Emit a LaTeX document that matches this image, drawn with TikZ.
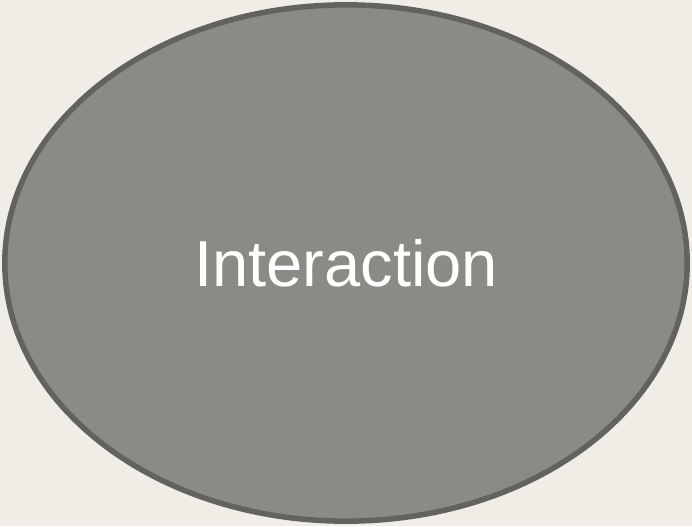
\documentclass[tikz,border=0pt]{standalone}
\usepackage{fontspec}
\setmainfont{Liberation Sans}
\usetikzlibrary{shapes.geometric}

\definecolor{paper}{HTML}{EFEDE6}
\definecolor{blobfill}{HTML}{8A8B84}
\definecolor{blobline}{HTML}{62635D}

\tikzset{
    blob/.style={ellipse, fill=blobfill, draw=blobline, line width=0.55mm,
        minimum width=6.82cm, minimum height=5.16cm, inner sep=0pt,
        text=white, font=\fontsize{18.5}{22}\selectfont}
}

\begin{document}
\begin{tikzpicture}[x=0.01cm,y=0.01cm]

    % Background
    \fill[paper] (0,0) rectangle (692,526);
    \useasboundingbox (0,0) rectangle (692,526);

    % Ellipse
    \node[blob] (interaction) at (346,263) {Interaction};

\end{tikzpicture}
\end{document}
